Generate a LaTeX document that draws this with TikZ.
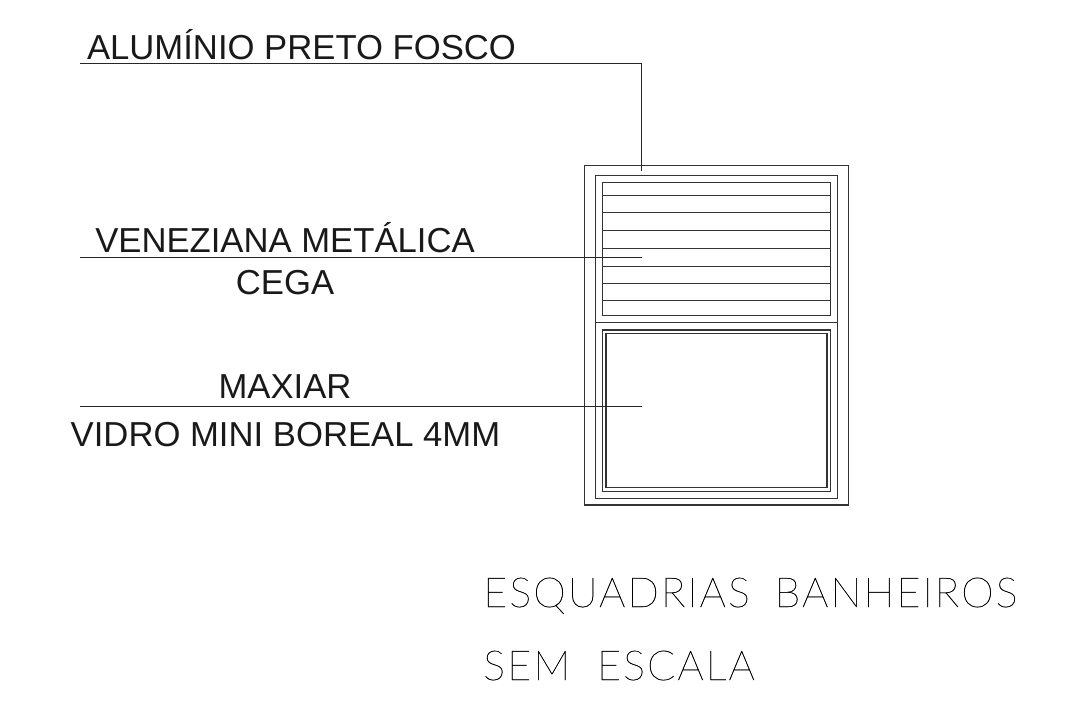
\documentclass[tikz,border=0pt]{standalone}
\usepackage{fontspec}
\setmainfont{Liberation Sans}
\newfontfamily\thinfont[LetterSpace=5,FakeBold=0.6]{Lato Thin}
\tikzset{
  frameline/.style={draw=black!80,line width=0.8pt},
  slat/.style={draw=black!80,line width=0.7pt},
  leader/.style={draw=black!85,line width=0.7pt},
  lbl/.style={inner sep=0pt,anchor=base,font=\fontsize{26pt}{26pt}\selectfont,text=black!90},
  ttl/.style={inner sep=0pt,anchor=base west,font=\fontsize{31pt}{31pt}\thinfont,text=black}
}
\begin{document}
\begin{tikzpicture}[x=0.75pt,y=-0.75pt]
\useasboundingbox (0,0) rectangle (1070,707);
\fill[white] (0,0) rectangle (1070,707);
% frames
\draw[frameline] (584.7,165.3) rectangle (848.3,505);
\draw[frameline] (595.3,175.3) rectangle (837.7,498.3);
\draw[frameline] (595.3,322.7) -- (837.7,322.7);
\draw[frameline] (602.3,182.7) rectangle (830.3,315.7);
\foreach \yy in {195.3,212.7,230.7,248.3,266,283.3,300.7}
  \draw[slat] (602.3,\yy) -- (830.3,\yy);
\draw[frameline] (602.3,330) rectangle (830.3,491.7);
\draw[frameline] (606,333.3) rectangle (827,487.7);
% leaders
\coordinate (a0) at (80,63.5);
\coordinate (a1) at (641,63.5);
\coordinate (a2) at (641,171);
\coordinate (b0) at (80,257);
\coordinate (b1) at (642,257);
\coordinate (c0) at (80,406.5);
\coordinate (c1) at (642,406.5);
\draw[leader] (a0) -- (a1) -- (a2);
\draw[leader] (b0) -- (b1);
\draw[leader] (c0) -- (c1);
% labels
\node[lbl] (t1) at (301.5,59.3) {ALUMÍNIO PRETO FOSCO};
\node[lbl] (t2) at (285,252.7) {VENEZIANA METÁLICA};
\node[lbl] (t3) at (285,294.7) {CEGA};
\node[lbl] (t4) at (285,398.2) {MAXIAR};
\node[lbl] (t5) at (285.5,446.3) {VIDRO MINI BOREAL 4MM};
\node[ttl] (t6) at (483,607) {ESQUADRIAS\hspace{0.6em}BANHEIROS};
\node[ttl] (t7) at (483,680) {SEM\hspace{0.65em}ESCALA};
\end{tikzpicture}
\end{document}
